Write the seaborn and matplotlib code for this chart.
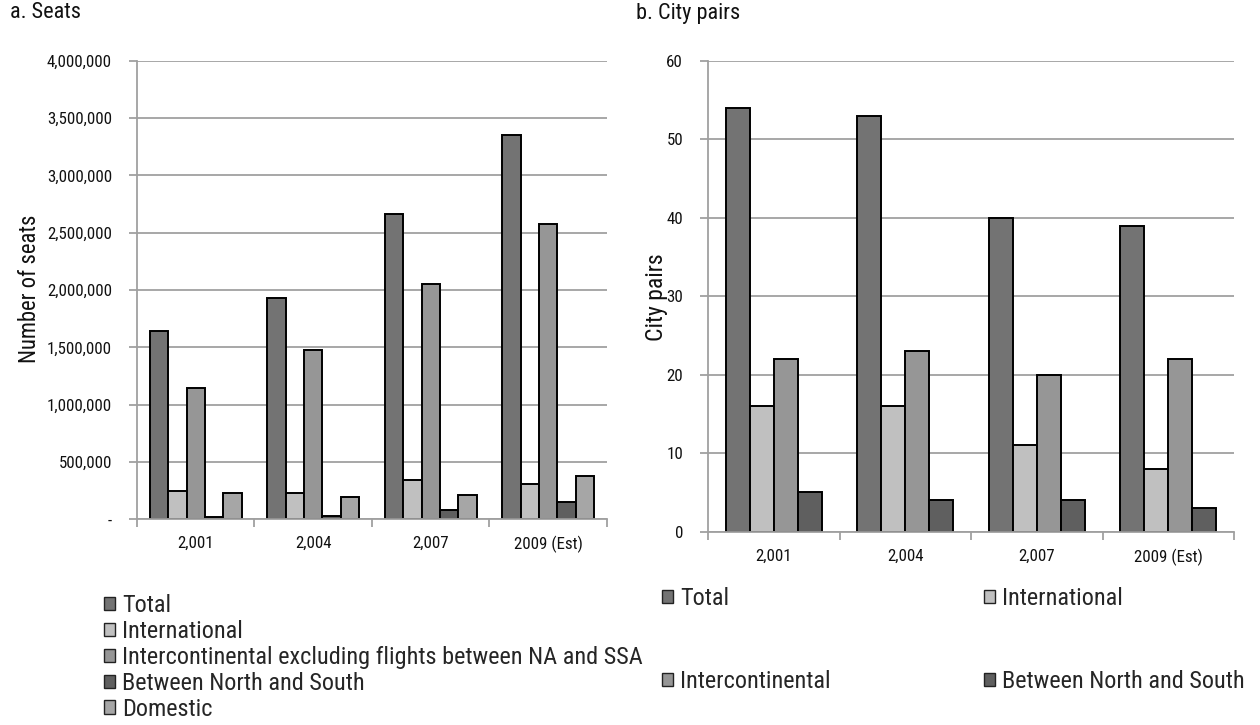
import matplotlib
matplotlib.use("Agg")
import matplotlib.pyplot as plt
from matplotlib import font_manager
from matplotlib.ticker import FuncFormatter, FixedLocator
from matplotlib.patches import Patch
import seaborn as sns
import pandas as pd
import numpy as np

# ---- data ----
years = ["2,001", "2,004", "2,007", "2009 (Est)"]

seat_series = ["Total", "International",
               "Intercontinental excluding flights between NA and SSA",
               "Between North and South", "Domestic"]
seats_total = [1645000, 1928000, 2660000, 3355000]
seats_international = [250000, 233000, 343000, 305000]
seats_intercontinental = [1145000, 1477000, 2050000, 2576000]
seats_north_south = [18000, 29000, 81000, 148000]
seats_domestic = [227000, 192000, 215000, 381000]

pair_series = ["Total", "International", "Intercontinental", "Between North and South"]
pairs_total = [54, 53, 40, 39]
pairs_international = [16, 16, 11, 8]
pairs_intercontinental = [22, 23, 20, 22]
pairs_north_south = [5, 4, 4, 3]

seat_colors = ["#737373", "#c0c0c0", "#969696", "#5f5f5f", "#a6a6a6"]
pair_colors = ["#737373", "#c0c0c0", "#969696", "#5f5f5f"]

# ---- fonts ----
def pick_font(candidates):
    for name in candidates:
        try:
            font_manager.findfont(name, fallback_to_default=False)
            return name
        except Exception:
            continue
    return "DejaVu Sans"

sns.set_theme(style="white")
narrow = pick_font(["Liberation Sans Narrow", "Arial Narrow", "Roboto Condensed", "Liberation Sans"])
plt.rcParams["font.family"] = [narrow, "DejaVu Sans"]

GRID = "#a0a0a0"
TEXT = "#111111"


def long_form(series, columns):
    rows = []
    for name, vals in zip(series, columns):
        for y, v in zip(years, vals):
            rows.append({"year": y, "series": name, "value": v})
    return pd.DataFrame(rows)


seats_df = long_form(seat_series, [seats_total, seats_international, seats_intercontinental,
                                   seats_north_south, seats_domestic])
pairs_df = long_form(pair_series, [pairs_total, pairs_international, pairs_intercontinental,
                                   pairs_north_south])

fig = plt.figure(figsize=(12.6, 7.25), dpi=100)
ax1 = fig.add_axes([0.1087, 0.2837, 0.373, 0.6326])
ax2 = fig.add_axes([0.5619, 0.2666, 0.4175, 0.6497])


def style_axis(ax, ymax, step, fmt, fontsize):
    ax.set_xlim(-0.5, len(years) - 0.5)
    ax.set_ylim(0, ymax)
    ticks = np.arange(0, ymax + step / 2, step)
    ax.yaxis.set_major_locator(FixedLocator(ticks))
    ax.yaxis.set_major_formatter(FuncFormatter(fmt))
    ax.grid(axis="y", color=GRID, linewidth=1.3)
    ax.set_axisbelow(True)
    for side in ("top", "right"):
        ax.spines[side].set_visible(False)
    for side in ("left", "bottom"):
        ax.spines[side].set_color(GRID)
        ax.spines[side].set_linewidth(1.3)
    ax.tick_params(axis="y", which="major", direction="out", length=6, width=1.3,
                   color=GRID, labelsize=fontsize, labelcolor=TEXT, pad=12, left=True)
    # category labels centred, tick marks on category boundaries
    ax.xaxis.set_major_locator(FixedLocator(range(len(years))))
    ax.set_xticklabels(years)
    ax.xaxis.set_minor_locator(FixedLocator(np.arange(-0.5, len(years), 1.0)))
    ax.tick_params(axis="x", which="major", length=0, labelsize=fontsize,
                   labelcolor=TEXT, pad=12)
    ax.tick_params(axis="x", which="minor", direction="out", length=6, width=1.3,
                   color=GRID, bottom=True)
    ax.set_xlabel("")
    ax.set_ylabel("")


legend_kw = dict(frameon=False, fontsize=17.5, handlelength=0.45, handleheight=0.45,
                 handletextpad=0.3, borderaxespad=0, borderpad=0)

# ---- a. Seats ----
sns.barplot(data=seats_df, x="year", y="value", hue="series", hue_order=seat_series,
            order=years, palette=seat_colors, width=0.78, gap=0, edgecolor="black",
            linewidth=1.4, errorbar=None, ax=ax1, legend=False)
style_axis(ax1, 4000000, 500000,
           lambda v, p: "-" if v == 0 else f"{int(v):,}", 12.2)
fig.text(30 / 1260, 1 - 289 / 725, "Number of seats", rotation=90,
         ha="center", va="center", fontsize=16.3, color=TEXT)
fig.text(10 / 1260, 1 - 13 / 725, "a. Seats", ha="left", va="center",
         fontsize=16, color=TEXT)

seat_handles = [Patch(facecolor=c, edgecolor="#222222", linewidth=1.0) for c in seat_colors]
fig.legend(seat_handles, seat_series, loc="upper left",
           bbox_to_anchor=(104 / 1260, 1 - 594 / 725), labelspacing=0.12, **legend_kw)

# ---- b. City pairs ----
sns.barplot(data=pairs_df, x="year", y="value", hue="series", hue_order=pair_series,
            order=years, palette=pair_colors, width=0.73, gap=0, edgecolor="black",
            linewidth=1.4, errorbar=None, ax=ax2, legend=False)
style_axis(ax2, 60, 10, lambda v, p: f"{int(v)}", 12.2)
fig.text(656 / 1260, 1 - 297 / 725, "City pairs", rotation=90,
         ha="center", va="center", fontsize=17, color=TEXT)
fig.text(636 / 1260, 1 - 13 / 725, "b. City pairs", ha="left", va="center",
         fontsize=16, color=TEXT)

# legend laid out row by row: (Total, International) then (Intercontinental, North-South)
pair_handles = [Patch(facecolor=c, edgecolor="#222222", linewidth=1.0) for c in pair_colors]
order = [0, 2, 1, 3]
fig.legend([pair_handles[i] for i in order], [pair_series[i] for i in order],
           loc="upper left", ncol=2, bbox_to_anchor=(662 / 1260, 1 - 587 / 725),
           labelspacing=2.46, columnspacing=6.3, **legend_kw)

fig.savefig("out.png", dpi=100, facecolor="white")
